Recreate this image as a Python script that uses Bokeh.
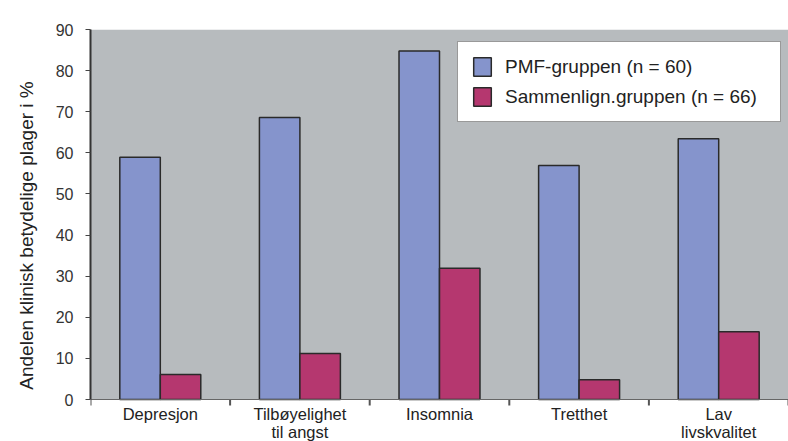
import math
from bokeh.plotting import figure
from bokeh.models import ColumnDataSource, Range1d, FixedTicker, Legend, LegendItem, BoxAnnotation
from bokeh.transform import dodge
from bokeh.core.properties import value
from bokeh.embed import file_html
from bokeh.resources import INLINE

categories = ["Depresjon", "Tilbøyelighet\ntil angst", "Insomnia", "Tretthet", "Lav\nlivskvalitet"]
pmf_values = [58.9, 68.6, 84.8, 56.9, 63.4]
comparison_values = [6.1, 11.2, 31.9, 4.8, 16.5]
y_ticks = [0, 10, 20, 30, 40, 50, 60, 70, 80, 90]
series_labels = ["PMF-gruppen (n = 60)", "Sammenlign.gruppen (n = 66)"]

FONT = "Liberation Sans"
Y_MAX = 90
FRAME_H = 412          # plotting frame height in px
ZERO_FROM_TOP = 370    # px from frame top to the zero line
Y_MIN = Y_MAX - FRAME_H * Y_MAX / ZERO_FROM_TOP

positions = [i + 0.5 for i in range(len(categories))]
boundaries = list(range(len(categories) + 1))

source = ColumnDataSource(dict(x=positions, pmf=pmf_values, cmp=comparison_values,
                               label=categories, base=[0] * len(categories)))
tick_source = ColumnDataSource(dict(x=boundaries, y=[0] * len(boundaries)))

p = figure(frame_width=698, frame_height=FRAME_H, output_backend="svg", toolbar_location=None,
           x_range=Range1d(0, len(categories)), y_range=Range1d(Y_MIN, Y_MAX),
           min_border_left=90, min_border_right=0, min_border_top=29, min_border_bottom=0)

p.background_fill_color = "white"
p.border_fill_color = "white"
p.outline_line_color = None
p.xgrid.visible = False
p.ygrid.visible = False

# grey plotting area from the zero line up
p.add_layout(BoxAnnotation(bottom=0, fill_color="#B7BBBE", fill_alpha=1.0,
                           line_color=None, level="underlay"))

r1 = p.vbar(x=dodge("x", -0.145, range=p.x_range), top="pmf", width=0.29, source=source,
            fill_color="#8594CC", line_color="#2a2a2a", line_width=1.5)
r2 = p.vbar(x=dodge("x", 0.145, range=p.x_range), top="cmp", width=0.29, source=source,
            fill_color="#B5376F", line_color="#2a2a2a", line_width=1.5)

# y axis
p.yaxis.ticker = FixedTicker(ticks=y_ticks)
p.yaxis.bounds = (0, Y_MAX)
p.yaxis.axis_label = "Andelen klinisk betydelige plager i %"
p.yaxis.axis_label_text_font = FONT
p.yaxis.axis_label_text_font_size = "19px"
p.yaxis.axis_label_text_font_style = "normal"
p.yaxis.axis_label_text_color = "#222222"
p.yaxis.axis_label_standoff = 16
p.yaxis.major_label_text_font = FONT
p.yaxis.major_label_text_font_size = "16px"
p.yaxis.major_label_text_color = "#333333"
p.yaxis.major_label_standoff = 12
p.yaxis.axis_line_color = "#333333"
p.yaxis.axis_line_width = 2
p.yaxis.major_tick_line_color = "#444444"
p.yaxis.major_tick_in = 0
p.yaxis.major_tick_out = 5
p.yaxis.minor_tick_line_color = None

# x axis line on the zero line
p.xaxis.fixed_location = 0
p.xaxis.ticker = FixedTicker(ticks=[])
p.xaxis.major_label_text_font_size = "0px"
p.xaxis.major_label_standoff = 0
p.xaxis.major_tick_line_color = None
p.xaxis.major_tick_in = 0
p.xaxis.major_tick_out = 0
p.xaxis.minor_tick_line_color = None
p.xaxis.minor_tick_in = 0
p.xaxis.minor_tick_out = 0
p.xaxis.axis_line_color = "#666666"
p.xaxis.axis_line_width = 1

# tick marks at the category boundaries, pointing down
p.ray(x="x", y="y", source=tick_source, length=6, length_units="screen",
      angle=-math.pi / 2, line_color="#555555", line_width=2)

p.text(x="x", y="base", text="label", source=source, y_offset=5,
       text_align="center", text_baseline="top", text_font=value(FONT),
       text_font_size="16.5px", text_color="#222222", text_line_height=1.0)

legend = Legend(items=[LegendItem(label=series_labels[0], renderers=[r1]),
                       LegendItem(label=series_labels[1], renderers=[r2])],
                location=(367, FRAME_H - 93), margin=0, padding=13, spacing=7,
                glyph_width=22, glyph_height=23, label_standoff=12, label_width=262,
                label_text_font=FONT, label_text_font_size="19px", label_text_color="#222222",
                border_line_color="#333333", border_line_width=1,
                background_fill_color="white", background_fill_alpha=1.0)
p.add_layout(legend)

open("out.html", "w").write(file_html(p, INLINE))
